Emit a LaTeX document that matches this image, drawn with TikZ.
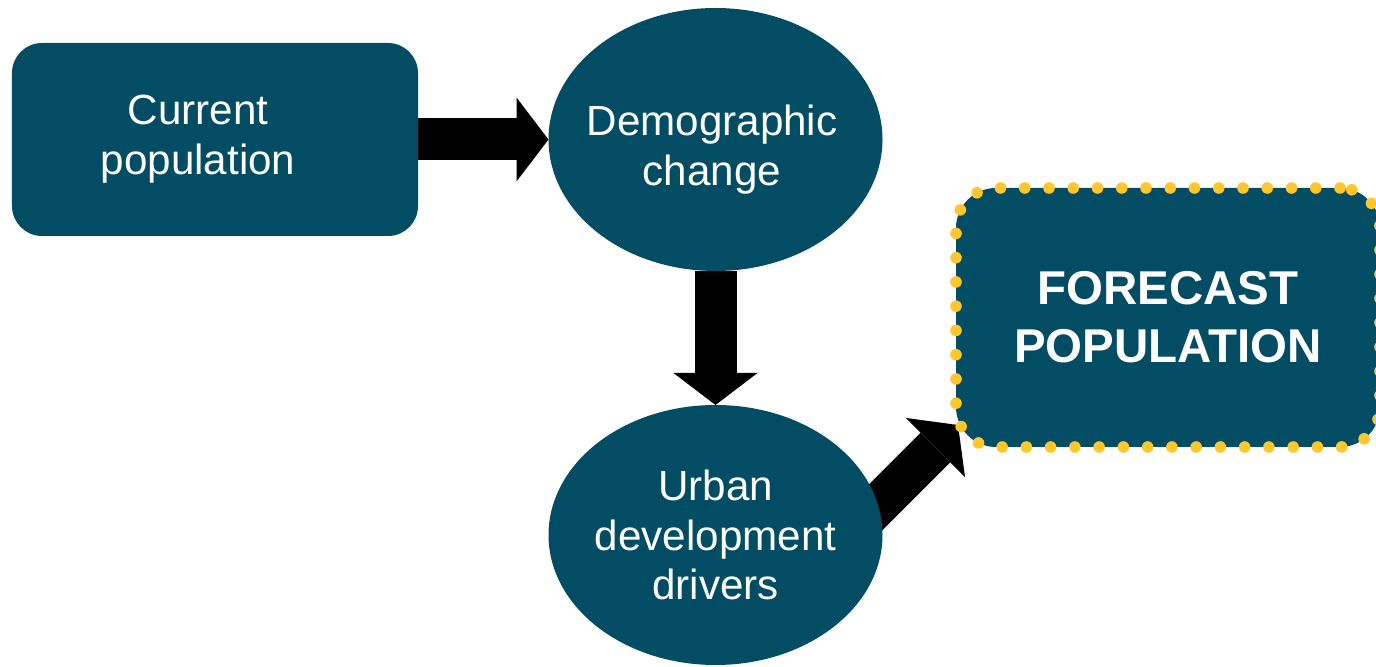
\documentclass[tikz,border=0pt]{standalone}
\usepackage{fontspec}
\setmainfont{Liberation Sans}
\usetikzlibrary{arrows.meta,shapes.geometric,backgrounds}

\definecolor{boxteal}{RGB}{2,77,99}
\definecolor{dotgold}{RGB}{255,199,44}

\begin{document}
\begin{tikzpicture}[
  every node/.style={outer sep=0pt,text=white,align=center},
  every label/.style={font=\fontsize{12}{14.2}\selectfont},
  box/.style={rectangle,fill=boxteal,rounded corners=0.3cm,minimum width=4.06cm,minimum height=1.93cm},
  oval/.style={ellipse,fill=boxteal,inner xsep=-0.1cm,inner ysep=0pt,minimum width=3.34cm,font=\fontsize{12}{14.2}\selectfont},
  goal/.style={rectangle,fill=boxteal,draw=dotgold,line width=3.3pt,line cap=round,dash pattern=on 0pt off 6.9pt,rounded corners=0.4cm,minimum width=4.24cm,minimum height=2.59cm,font=\bfseries\fontsize{13.5}{16.5}\selectfont},
  blk/.style={line width=4.2mm,-{Triangle[length=3.2mm,width=8.4mm,line width=0pt]}}]
\useasboundingbox (0,0) rectangle (13.76,-6.67);

\node[box,label={[xshift=-0.17cm]center:{Current\\population}}] (cur) at (2.15,-1.395) {};
\node[oval,minimum height=2.63cm,label={[xshift=-0.035cm,yshift=-0.1cm]center:{Demographic\\change}}] (dem) at (7.155,-1.395) {};
\node[oval,minimum height=2.60cm] (urb) at (7.155,-5.35) {Urban\\development\\drivers};
\node[goal] (fc) at (11.68,-3.175) {FORECAST\\POPULATION};

% the block arrows sit behind the shapes
\coordinate (tip) at ([shift={(0.02,0.22)}]fc.south west);
\begin{scope}[on background layer]
\draw[blk] (cur.east) -- (dem.west);
\draw[blk] (dem.south) -- (urb.north);
\draw[blk] ([shift={(-1,-1)}]tip) -- (tip);
\end{scope}
\end{tikzpicture}
\end{document}
